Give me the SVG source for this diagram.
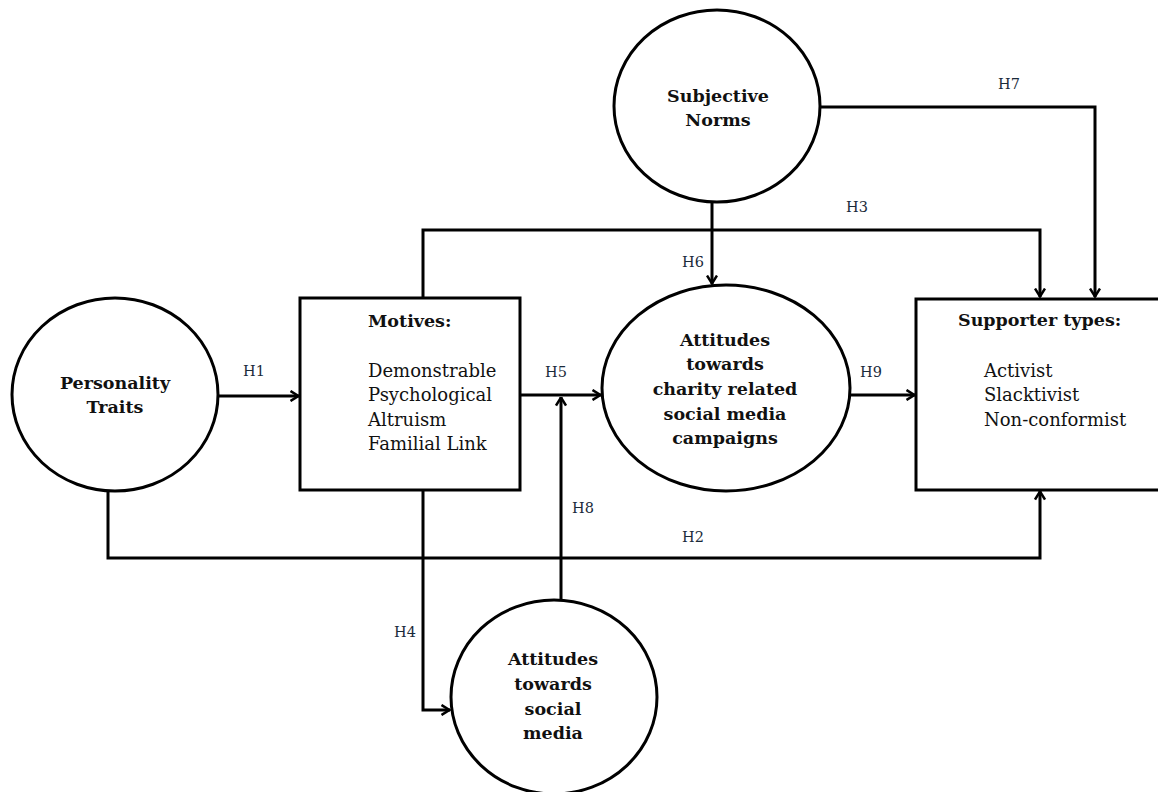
<svg xmlns="http://www.w3.org/2000/svg" width="1158" height="792" viewBox="0 0 1158 792">
<style>
.shape{fill:#fff;stroke:#000;stroke-width:3}
.conn{fill:none;stroke:#000;stroke-width:3}
.t{font-family:"DejaVu Serif","Liberation Serif",serif;font-size:18px;fill:#111}
.b{font-family:"DejaVu Serif","Liberation Serif",serif;font-size:17.5px;font-weight:bold;fill:#111;text-anchor:middle}
.bl{font-family:"DejaVu Serif","Liberation Serif",serif;font-size:17.5px;font-weight:bold;fill:#111}
.h{font-family:"DejaVu Serif","Liberation Serif",serif;font-size:14.5px;fill:#1a2a3a}
</style>
<defs>
<marker id="arr" viewBox="0 0 10 12" refX="9.5" refY="6" markerWidth="10" markerHeight="12" markerUnits="userSpaceOnUse" orient="auto">
<path d="M1,1 L9,6 L1,11" fill="none" stroke="#000" stroke-width="2.5"/>
</marker>
</defs>
<rect width="1158" height="792" fill="#fff"/>
<g id="connectors">
<path class="conn" d="M218,396 H299" marker-end="url(#arr)"/>
<path class="conn" d="M520,395 H601" marker-end="url(#arr)"/>
<path class="conn" d="M561,600 V397" marker-end="url(#arr)"/>
<path class="conn" d="M850,395 H915" marker-end="url(#arr)"/>
<path class="conn" d="M712,203 V284" marker-end="url(#arr)"/>
<path class="conn" d="M423,298 V230 H1040 V297" marker-end="url(#arr)"/>
<path class="conn" d="M821,107 H1095 V297" marker-end="url(#arr)"/>
<path class="conn" d="M108,491 V558 H1040 V491" marker-end="url(#arr)"/>
<path class="conn" d="M423,490 V710 H450" marker-end="url(#arr)"/>
<text class="h" x="243" y="376">H1</text>
<text class="h" x="545" y="377">H5</text>
<text class="h" x="860" y="377">H9</text>
<text class="h" x="682" y="267">H6</text>
<text class="h" x="846" y="212">H3</text>
<text class="h" x="998" y="89">H7</text>
<text class="h" x="572" y="513">H8</text>
<text class="h" x="682" y="542">H2</text>
<text class="h" x="394" y="637">H4</text>
</g>
<g id="subjective-norms">
<ellipse class="shape" cx="717" cy="106" rx="103" ry="96"/>
<text class="b" x="718" y="102">Subjective</text>
<text class="b" x="718" y="126">Norms</text>
</g>
<g id="personality-traits">
<ellipse class="shape" cx="115" cy="394.5" rx="103" ry="96.5"/>
<text class="b" x="115" y="389">Personality</text>
<text class="b" x="115" y="413">Traits</text>
</g>
<g id="motives">
<rect class="shape" x="300" y="298" width="220" height="192"/>
<text class="bl" x="368" y="327">Motives:</text>
<text class="t" x="368" y="377">Demonstrable</text>
<text class="t" x="368" y="401">Psychological</text>
<text class="t" x="368" y="426">Altruism</text>
<text class="t" x="368" y="450">Familial Link</text>
</g>
<g id="attitudes-campaigns">
<ellipse class="shape" cx="726" cy="388" rx="124" ry="103"/>
<text class="b" x="725" y="346">Attitudes</text>
<text class="b" x="725" y="370">towards</text>
<text class="b" x="725" y="395">charity related</text>
<text class="b" x="725" y="420">social media</text>
<text class="b" x="725" y="444">campaigns</text>
</g>
<g id="supporter-types">
<rect class="shape" x="916" y="299" width="260" height="191"/>
<text class="bl" x="958" y="326">Supporter types:</text>
<text class="t" x="984" y="377">Activist</text>
<text class="t" x="984" y="401">Slacktivist</text>
<text class="t" x="984" y="426">Non-conformist</text>
</g>
<g id="attitudes-social-media">
<ellipse class="shape" cx="554" cy="697" rx="103" ry="97"/>
<text class="b" x="553" y="665">Attitudes</text>
<text class="b" x="553" y="690">towards</text>
<text class="b" x="553" y="715">social</text>
<text class="b" x="553" y="739">media</text>
</g>
</svg>
